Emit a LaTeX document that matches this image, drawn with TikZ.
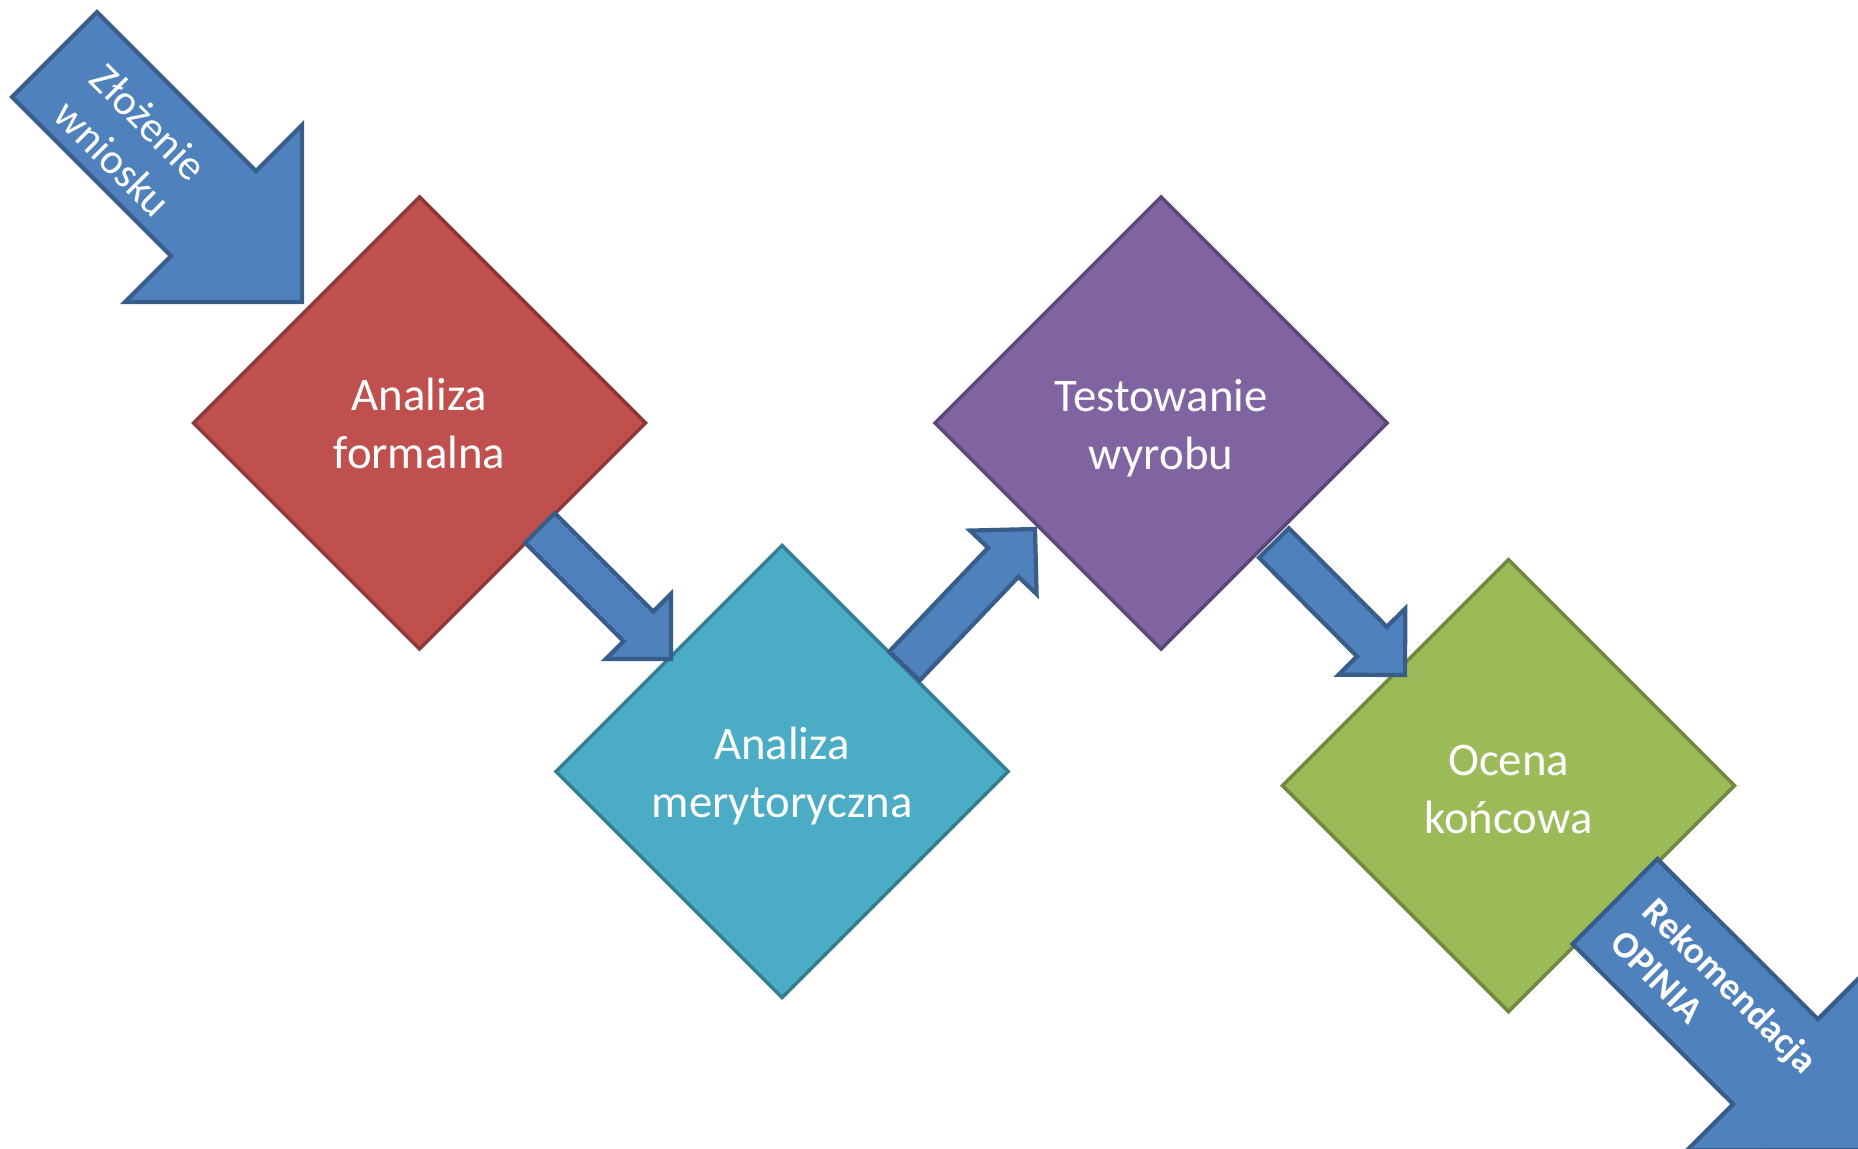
\documentclass[tikz,border=0pt]{standalone}
\usepackage{fontspec}
\setmainfont{Carlito}
\usetikzlibrary{calc,shapes.geometric}
\definecolor{arrowfill}{HTML}{4F81BD}
\definecolor{arrowline}{HTML}{385D8A}
\definecolor{redfill}{HTML}{C0504D}
\definecolor{redline}{HTML}{8C3836}
\definecolor{tealfill}{HTML}{4BACC6}
\definecolor{tealline}{HTML}{357D91}
\definecolor{purpfill}{HTML}{8064A2}
\definecolor{purpline}{HTML}{5C4776}
\definecolor{greenfill}{HTML}{9BBB59}
\definecolor{greenline}{HTML}{71893F}
\tikzset{
  diam/.style={diamond, aspect=1, minimum width=45.2mm, minimum height=45.2mm,
    inner sep=0pt, outer sep=0pt, line width=1pt},
  dtext/.style={text=white, align=center, inner sep=0pt,
    font=\fontsize{13.3}{16.5}\selectfont},
  blockarr/.style={fill=arrowfill, draw=arrowline, line width=1.2pt, line join=miter},
  arrowtext/.style={text=white, rotate=-45, inner sep=0pt},
}
% #1 back, #2 tip, #3 shaft half width, #4 head half width, #5 head length, #6 name
\newcommand\blkarrow[6]{%
  \coordinate (#6-n) at ($(#2)!#5!(#1)$);
  \draw[blockarr] ($(#1)!#3!90:(#2)$) -- ($(#6-n)!#3!-90:(#1)$) -- ($(#6-n)!#4!-90:(#1)$)
    -- (#2) -- ($(#6-n)!#4!90:(#1)$) -- ($(#6-n)!#3!90:(#1)$) -- ($(#1)!#3!-90:(#2)$) -- cycle;
}
\begin{document}
\begin{tikzpicture}[x=0.1mm, y=-0.1mm]
\useasboundingbox (0,0) rectangle (1858,1149);
\clip (0,0) rectangle (1858,1149);

% diamonds
\node[diam, fill=redfill, draw=redline] (fa) at (419.5,423) {};
\node[diam, fill=tealfill, draw=tealline] (ma) at (782,771.5) {};
\node[diam, fill=purpfill, draw=purpline] (tw) at (1161,423) {};
\node[diam, fill=greenfill, draw=greenline] (oc) at (1508.5,785.6) {};
\node[dtext] (fa-t) at ($(fa.center)+(0,0.5)$) {Analiza\\formalna};
\node[dtext] (ma-t) at ($(ma.center)+(0,5)$) {Analiza\\merytoryczna};
\node[dtext] (tw-t) at ($(tw.center)+(0,5)$) {Testowanie\\wyrobu};
\node[dtext] (oc-t) at ($(oc.center)+(0,4)$) {Ocena\\końcowa};

% input arrow
\coordinate (inB) at (54.5,54.5);
\coordinate (inT) at (302,302);
\blkarrow{inB}{inT}{6mm}{12.5mm}{12.5mm}{in}
\node[arrowtext, align=center, font=\fontsize{12.2}{14.6}\selectfont] (intext)
  at ($($(inB)!0.5!(in-n)$)+(-3,6)$) {Złożenie\\wniosku};

% connectors
\coordinate (a1B) at (540,528);
\coordinate (a1T) at (671,659);
\blkarrow{a1B}{a1T}{2.1mm}{4.6mm}{4.6mm}{a1}
\coordinate (a2B) at (904.5,666);
\coordinate (a2T) at (1035,529);
\blkarrow{a2B}{a2T}{2.1mm}{4.6mm}{4.6mm}{a2}
\coordinate (a3B) at (1274,543);
\coordinate (a3T) at (1405,675);
\blkarrow{a3B}{a3T}{2.1mm}{4.7mm}{4.7mm}{a3}

% output arrow
\coordinate (outB) at (1615,901.5);
\coordinate (outT) at (1864,1150);
\blkarrow{outB}{outT}{6mm}{12.5mm}{12.5mm}{out}
\node[arrowtext, align=left, anchor=west, font=\bfseries\fontsize{10.7}{13}\selectfont] (outtext)
  at ($(outB)!2.6mm!(outT)$) {Rekomendacja\\OPINIA};
\end{tikzpicture}
\end{document}
